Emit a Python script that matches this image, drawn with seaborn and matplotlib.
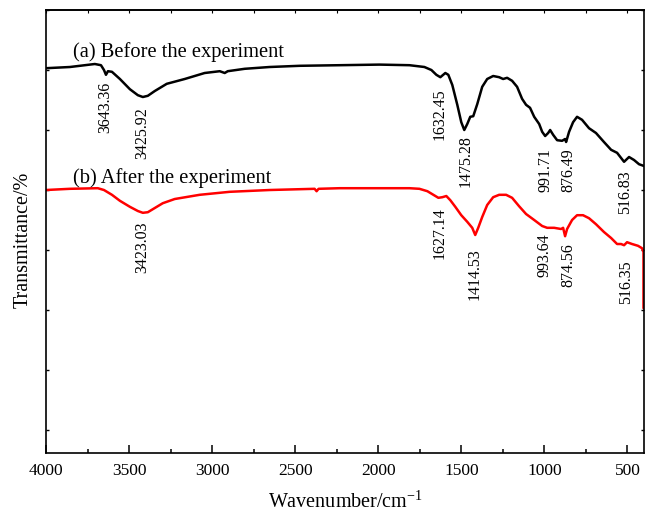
import numpy as np
import pandas as pd
import matplotlib
matplotlib.use("Agg")
import matplotlib.pyplot as plt
import seaborn as sns
from matplotlib.transforms import offset_copy

# ---- data ----
wn_a = [4000, 3856, 3706, 3669, 3651, 3639, 3627, 3603, 3555, 3495, 3447, 3417, 3387, 3345,
        3273, 3165, 3045, 2954, 2924, 2906, 2804, 2654, 2473, 2233, 1993, 1812, 1782, 1722,
        1680, 1650, 1626, 1596, 1578, 1554, 1524, 1500, 1482, 1464, 1446, 1428, 1404, 1374,
        1344, 1308, 1272, 1248, 1224, 1194, 1164, 1134, 1110, 1086, 1061, 1031, 1013, 995,
        977, 965, 947, 923, 893, 875, 869, 851, 827, 803, 773, 731, 689, 641, 598, 562, 520,
        490, 460, 430, 400]
tr_a = [60.3, 60.5, 61.0, 60.8, 60.0, 59.2, 59.8, 59.7, 58.5, 56.8, 55.8, 55.5, 55.7, 56.5,
        57.7, 58.5, 59.5, 59.8, 59.5, 59.8, 60.2, 60.5, 60.7, 60.8, 60.9, 60.8, 60.7, 60.5,
        60.0, 59.2, 58.8, 59.5, 59.2, 57.5, 54.2, 51.3, 50.0, 51.0, 52.2, 52.3, 54.3, 57.2,
        58.5, 59.0, 58.8, 58.5, 58.7, 58.2, 57.2, 55.2, 54.2, 53.7, 52.2, 51.0, 49.7, 49.0,
        49.5, 50.0, 49.2, 48.3, 48.2, 48.5, 48.0, 49.7, 51.3, 52.2, 51.7, 50.3, 49.5, 48.0,
        46.7, 46.2, 44.7, 45.5, 45.0, 44.3, 44.0]

wn_b = [4000, 3856, 3688, 3651, 3603, 3555, 3495, 3447, 3417, 3387, 3345, 3297, 3225, 3075,
        2894, 2654, 2383, 2371, 2359, 2233, 1993, 1812, 1752, 1704, 1668, 1638, 1614, 1590,
        1566, 1536, 1500, 1464, 1434, 1416, 1398, 1374, 1344, 1308, 1272, 1230, 1194, 1152,
        1110, 1061, 1013, 983, 941, 899, 887, 875, 863, 833, 803, 767, 731, 689, 641, 598,
        562, 538, 520, 502, 472, 436, 412, 403, 403]
tr_b = [40.0, 40.2, 40.3, 40.0, 39.2, 38.2, 37.2, 36.5, 36.2, 36.3, 37.0, 37.8, 38.5, 39.2,
        39.7, 40.0, 40.2, 39.8, 40.2, 40.3, 40.3, 40.3, 40.2, 39.8, 39.2, 38.7, 38.8, 39.0,
        38.3, 37.2, 35.8, 34.7, 33.7, 32.5, 33.7, 35.5, 37.5, 38.8, 39.2, 39.2, 38.7, 37.3,
        36.0, 35.0, 34.0, 33.7, 33.7, 33.5, 33.7, 32.3, 33.5, 35.0, 35.8, 35.8, 35.3, 34.3,
        33.0, 32.0, 31.0, 31.0, 30.8, 31.3, 31.0, 30.7, 30.3, 29.7, 20.3]

series_names = ["(a) Before the experiment", "(b) After the experiment"]

peaks_a = [3643.36, 3425.92, 1632.45, 1475.28, 991.71, 876.49, 516.83]
peaks_b = [3423.03, 1627.14, 1414.53, 993.64, 874.56, 516.35]

xticks = [4000, 3500, 3000, 2500, 2000, 1500, 1000, 500]
xminor = [3750, 3250, 2750, 2250, 1750, 1250, 750]

# ---- layout (label tops, pixel nudges) ----
label_top_a = [58.0, 53.8, 57.0, 49.2, 47.0, 47.0, 43.3]
label_dx_a = [0, 1, 0, 0, 0, 4, 0]
label_top_b = [34.8, 37.2, 30.3, 32.7, 31.2, 28.3]
label_dx_b = [0, -1, -1, -1, 3, 1]

df = pd.concat([
    pd.DataFrame({"wn": wn_a, "T": tr_a, "sample": series_names[0]}),
    pd.DataFrame({"wn": wn_b, "T": tr_b, "sample": series_names[1]}),
], ignore_index=True)

sns.set_theme(style="ticks")
plt.rcParams["font.family"] = ["Liberation Serif", "DejaVu Serif"]
plt.rcParams["mathtext.fontset"] = "custom"
plt.rcParams["mathtext.rm"] = "Liberation Serif"
plt.rcParams["mathtext.it"] = "Liberation Serif:italic"
plt.rcParams["text.color"] = "black"
plt.rcParams["axes.labelcolor"] = "black"
plt.rcParams["xtick.color"] = "black"
plt.rcParams["ytick.color"] = "black"
plt.rcParams["axes.edgecolor"] = "black"

fig = plt.figure(figsize=(6.49, 5.15), dpi=100)
ax = fig.add_axes([46 / 649, 62 / 515, 598 / 649, 443 / 515])

sns.lineplot(data=df, x="wn", y="T", hue="sample", palette=["black", "#ff0000"],
             estimator=None, sort=False, linewidth=1.8, legend=False, ax=ax)

ax.set_xlim(4000, 400)
ax.set_ylim(-3.83, 70)
ax.set_xticks(xticks)
ax.set_xticks(xminor, minor=True)
ax.set_yticks(np.arange(0, 71, 10))
ax.set_yticklabels([])
ax.set_xticklabels([str(t) for t in xticks])
ax.tick_params(axis="x", which="major", direction="in", length=6, width=1.1,
               labelsize=12.5, pad=7, colors="black")
ax.tick_params(axis="x", which="minor", direction="in", length=3, width=1.1)
ax.tick_params(axis="y", which="major", direction="in", length=2.5, width=1.0,
               left=True, right=True)
top = ax.secondary_xaxis("top")
top.set_xticks(xticks + xminor)
top.set_xticklabels([])
top.tick_params(direction="in", length=2, width=0.8)
for s in ax.spines.values():
    s.set_linewidth(1.2)
    s.set_color("black")
    s.set_visible(True)
top.spines["top"].set_linewidth(1.2)

ax.set_xlabel("Wavenumber/cm$^{-1}$", fontsize=14.5, labelpad=9, color="black")
ax.set_ylabel("Transmittance/%", fontsize=14.5, color="black")
ax.yaxis.set_label_coords(-0.022, 0.482)

# series titles
ax.text(0.045, (453 - 57) / 443, series_names[0], transform=ax.transAxes,
        fontsize=14.8, ha="left", va="baseline", color="black")
ax.text(0.045, (453 - 183) / 443, series_names[1], transform=ax.transAxes,
        fontsize=14.8, ha="left", va="baseline", color="black")

for pk, yt, dx in zip(peaks_a, label_top_a, label_dx_a):
    tr = offset_copy(ax.transData, fig=fig, x=dx * 0.72, y=0, units="points")
    ax.text(pk, yt, f"{pk:.2f}", rotation=90, ha="center", va="top",
            fontsize=11.5, transform=tr, color="black")
for pk, yt, dx in zip(peaks_b, label_top_b, label_dx_b):
    tr = offset_copy(ax.transData, fig=fig, x=dx * 0.72, y=0, units="points")
    ax.text(pk, yt, f"{pk:.2f}", rotation=90, ha="center", va="top",
            fontsize=11.5, transform=tr, color="black")

fig.savefig("out.png", dpi=100)
